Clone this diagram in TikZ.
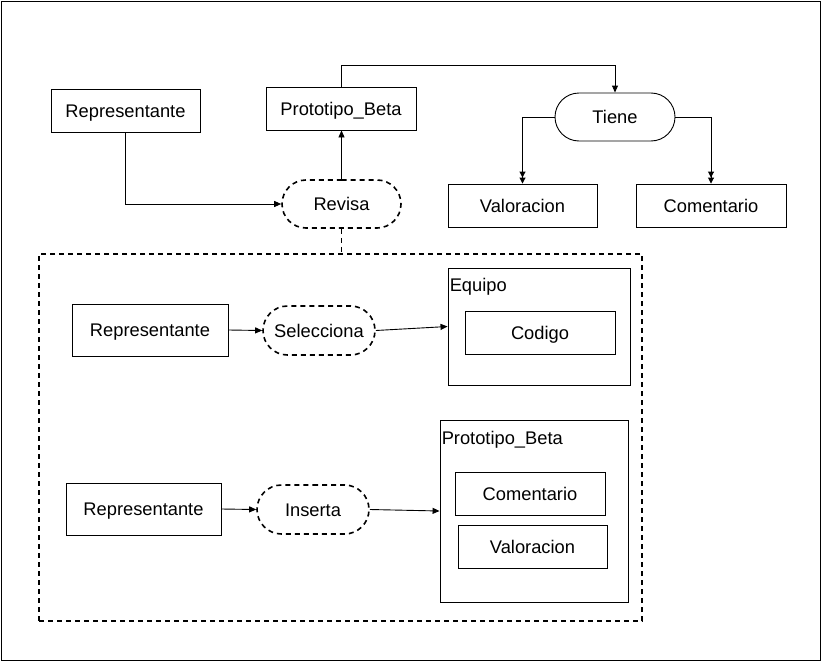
\documentclass[tikz,border=0pt]{standalone}
\usepackage{fontspec}
\setmainfont{Liberation Sans}
\usetikzlibrary{arrows.meta,shapes.misc}
\begin{document}
\begin{tikzpicture}[x=1pt,y=-1pt,
 every node/.style={font=\fontsize{18.3}{22}\selectfont, text height=13.1pt, text depth=0pt},
 ent/.style={draw, line width=0.9pt, minimum width=150pt, minimum height=43pt, inner sep=0pt},
 rel/.style={draw, rounded rectangle, minimum width=120pt, minimum height=48pt, inner sep=0pt, line width=0.9pt},
 drel/.style={rel, line width=1.6pt, dash pattern=on 5pt off 4pt},
 cont/.style={draw, line width=0.9pt, inner sep=0pt},
 arr/.style={-{Triangle[length=7pt,width=6pt]}, line width=0.9pt},
 darr/.style={-{Triangle[length=6pt,width=6pt]Triangle[length=6pt,width=6pt]}, line width=0.9pt},
 lbl/.style={anchor=west, inner sep=0pt},
]
\useasboundingbox (0,0) rectangle (821,661);
\draw[line width=0.9pt] (1,1) rectangle (820,660);

% top part
\node[ent, minimum width=149pt] (rep1) at (125.5,110.5) {Representante};
\node[ent] (proto1) at (341,108.5) {Prototipo\_Beta};
\node[drel, minimum width=119pt] (revisa) at (341.5,204) {Revisa};
\node[rel] (tiene) at (615,117) {Tiene};
\node[ent, minimum width=149pt] (val1) at (522.5,205.5) {Valoracion};
\node[ent] (com1) at (711,205.5) {Comentario};

% dashed frame
\node[draw, line width=1.6pt, dash pattern=on 5pt off 4pt, minimum width=603pt, minimum height=367pt, inner sep=0pt] (frame) at (340.5,437.5) {};

% inner rows
\node[ent, minimum width=156pt, minimum height=52pt] (rep2) at (150,330) {Representante};
\node[drel, minimum width=112pt, minimum height=49pt] (sel) at (319,330.5) {Selecciona};
\node[cont, minimum width=182pt, minimum height=117pt] (equipo) at (539,326.5) {};
\node[lbl] (equipolbl) at ([shift={(2,17)}]equipo.north west) {Equipo};
\node[ent] (codigo) at (540,332.5) {Codigo};

\node[ent, minimum width=155pt, minimum height=52pt] (rep3) at (143.5,509) {Representante};
\node[drel, minimum width=112pt, minimum height=49pt] (ins) at (313,509.5) {Inserta};
\node[cont, minimum width=188pt, minimum height=182pt] (protoC) at (534,511) {};
\node[lbl] (protolbl) at ([shift={(2,18)}]protoC.north west) {Prototipo\_Beta};
\node[ent] (com2) at (530,493.5) {Comentario};
\node[ent, minimum width=149pt] (val2) at (532.5,546.5) {Valoracion};

% connectors
\draw[arr] (rep1.south) |- (revisa.west);
\draw[arr] (revisa.north) -- (revisa.north |- proto1.south);
\draw[arr] (proto1.north) -- ++(0,-21) -| (tiene.north);
\draw[darr] (tiene.west) -| (val1.north);
\draw[darr] (tiene.east) -| (com1.north);
\draw[line width=1.6pt, dash pattern=on 5pt off 4pt] (revisa.south) -- (revisa.south |- frame.north);

\draw[arr] (rep2.east) -- (sel.west);
\draw[arr] (sel.east) -- (equipo.west);
\draw[arr] (rep3.east) -- (ins.west);
\draw[arr] (ins.east) -- (protoC.west);
\end{tikzpicture}
\end{document}
